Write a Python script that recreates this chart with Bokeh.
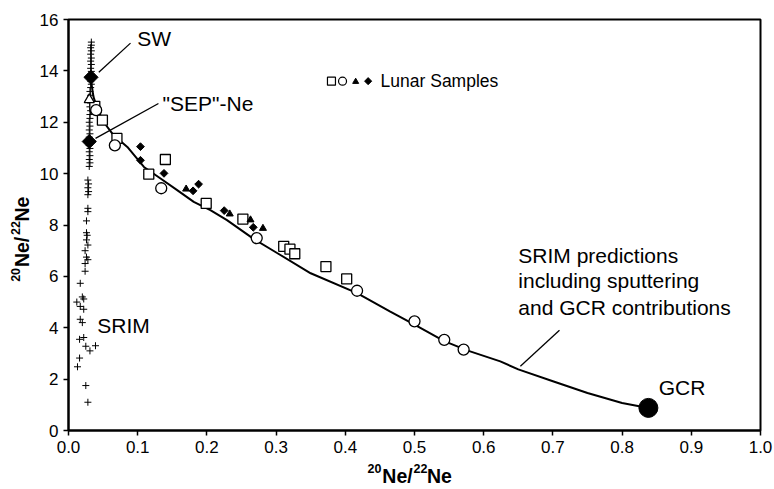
import numpy as np
from bokeh.plotting import figure
from bokeh.models import FixedTicker, NumeralTickFormatter, LinearAxis, Range1d
from bokeh.core.properties import value
from bokeh.embed import file_html
from bokeh.resources import INLINE

# ---------------- data ----------------
# SRIM simulation points (crosses)
srim_x = [0.033, 0.033, 0.032, 0.033, 0.032, 0.033, 0.032, 0.033, 0.032, 0.033,
          0.032, 0.032, 0.033, 0.032, 0.031, 0.032, 0.031, 0.032, 0.031, 0.032,
          0.031, 0.031, 0.030, 0.031, 0.030, 0.031, 0.030, 0.030, 0.031, 0.030,
          0.031, 0.030, 0.031, 0.030, 0.028, 0.029, 0.028, 0.029, 0.028,
          0.028, 0.028, 0.026, 0.026, 0.027, 0.026, 0.028, 0.024, 0.026, 0.028,
          0.024, 0.024, 0.017, 0.020, 0.022, 0.012, 0.017, 0.022, 0.017, 0.020,
          0.016, 0.022, 0.025, 0.031, 0.039, 0.016, 0.013, 0.025, 0.028]
srim_y = [15.12, 15.0, 14.9, 14.78, 14.65, 14.5, 14.38, 14.25, 14.1, 13.98,
          13.85, 13.6, 13.48, 13.35, 13.2, 13.05, 12.9, 12.75, 12.6, 12.45,
          12.3, 12.15, 12.0, 11.85, 11.7, 11.55, 11.42, 11.1, 10.98, 10.85,
          10.7, 10.55, 10.42, 10.28, 9.75, 9.6, 9.45, 9.3, 9.18,
          8.65, 8.52, 8.16, 7.7, 7.6, 7.42, 7.22, 7.0, 6.75, 6.65,
          6.5, 6.2, 5.73, 5.2, 5.12, 5.0, 4.83, 4.72, 4.33, 4.2,
          3.55, 3.62, 3.28, 3.1, 3.3, 2.82, 2.48, 1.75, 1.1]

# SRIM prediction curve including sputtering and GCR
curve_x = [0.032, 0.036, 0.042, 0.051, 0.065, 0.085, 0.109, 0.133, 0.157, 0.181,
           0.205, 0.229, 0.268, 0.302, 0.350, 0.417, 0.465, 0.500, 0.543, 0.576,
           0.624, 0.650, 0.700, 0.750, 0.800, 0.838]
curve_y = [13.72, 13.0, 12.5, 12.0, 11.5, 11.04, 10.26, 9.81, 9.36, 8.9,
           8.58, 8.19, 7.45, 6.9, 6.12, 5.35, 4.63, 4.12, 3.48, 3.12,
           2.69, 2.38, 1.92, 1.46, 1.07, 0.88]

# Lunar samples
sq_x = [0.038, 0.049, 0.070, 0.116, 0.140, 0.199, 0.252, 0.311, 0.320, 0.327, 0.372, 0.402]
sq_y = [12.62, 12.08, 11.37, 9.98, 10.55, 8.84, 8.23, 7.17, 7.06, 6.88, 6.38, 5.9]
ci_x = [0.040, 0.067, 0.134, 0.272, 0.417, 0.500, 0.543, 0.571]
ci_y = [12.47, 11.1, 9.43, 7.49, 5.44, 4.25, 3.53, 3.15]
di_x = [0.104, 0.104, 0.138, 0.180, 0.188, 0.225, 0.267]
di_y = [11.05, 10.52, 10.01, 9.33, 9.59, 8.56, 7.91]
tr_x = [0.170, 0.233, 0.263, 0.281]
tr_y = [9.40, 8.43, 8.20, 7.87]
tro_x = [0.030]
tro_y = [12.88]

# end members
sw = (0.0325, 13.75)
sep = (0.030, 11.25)
gcr = (0.838, 0.88)

x_ticks = [0.0, 0.1, 0.2, 0.3, 0.4, 0.5, 0.6, 0.7, 0.8, 0.9, 1.0]
y_ticks = [0, 2, 4, 6, 8, 10, 12, 14, 16]

# axis title pieces ("20Ne/22Ne"): superscripts and main text
title_sup = ["20", "22"]
title_main = ["Ne/", "Ne"]

FONT = "Liberation Sans"

p = figure(width=774, height=489, x_range=(0, 1.0), y_range=(0, 16),
           output_backend="svg", toolbar_location=None,
           min_border_left=68, min_border_right=14, min_border_top=19, min_border_bottom=58)

p.grid.visible = False
p.outline_line_color = "black"
p.outline_line_width = 2
p.background_fill_color = "white"
p.border_fill_color = "white"

for ax in (p.xaxis[0], p.yaxis[0]):
    ax.axis_line_width = 2
    ax.major_tick_line_width = 1.5
    ax.major_tick_in = 0
    ax.major_tick_out = 5
    ax.minor_tick_line_color = None
    ax.major_label_text_font = FONT
    ax.major_label_text_font_size = "17px"
    ax.major_label_text_color = "black"
    ax.major_label_standoff = 5

p.xaxis.ticker = FixedTicker(ticks=x_ticks)
p.xaxis.formatter = NumeralTickFormatter(format="0.0")
p.yaxis.ticker = FixedTicker(ticks=y_ticks)

# ---- axis titles with superscripts: helper axes on pixel-based ranges ----
p.extra_x_ranges = {"px": Range1d(68, 760)}
p.extra_y_ranges = {"py": Range1d(431, 19)}

def title_axis(ticks, labels, size, standoff, vertical=False, **kw):
    ax = LinearAxis(ticker=FixedTicker(ticks=ticks),
                    major_label_overrides={t: s for t, s in zip(ticks, labels)}, **kw)
    ax.axis_line_color = None
    ax.major_tick_line_color = None
    ax.minor_tick_line_color = None
    ax.major_tick_in = 0
    ax.major_tick_out = 0
    ax.major_label_text_font = FONT
    ax.major_label_text_font_style = "bold"
    ax.major_label_text_font_size = size
    ax.major_label_text_color = "black"
    ax.major_label_standoff = standoff
    if vertical:
        ax.major_label_orientation = "vertical"
    return ax

# x title: superscripts first (closer to frame), then main text
p.add_layout(title_axis([374, 420], title_sup, "12.5px", 8, x_range_name="px"), "below")
p.add_layout(title_axis([397, 439], title_main, "19.5px", -11, x_range_name="px"), "below")
# y title: main text first (closer to frame), then superscripts
p.add_layout(title_axis([252, 209], title_main, "19.5px", 3, vertical=True, y_range_name="py"), "left")
p.add_layout(title_axis([275, 228], title_sup, "12.5px", -12, vertical=True, y_range_name="py"), "left")

# SRIM crosses
p.scatter(srim_x, srim_y, marker="cross", size=7, line_color="black", line_width=1)

# curve
p.line(curve_x, curve_y, line_color="black", line_width=2)

# leader lines
p.segment(x0=[0.0438, 0.039, 0.653], y0=[13.95, 11.37, 2.5],
          x1=[0.0896, 0.130, 0.7095], y1=[15.08, 12.73, 3.9],
          line_color="black", line_width=1.3)

# lunar samples
p.scatter(sq_x, sq_y, marker="square", size=10, fill_color="white", line_color="black", line_width=1.3)
p.scatter(ci_x, ci_y, marker="circle", size=11, fill_color="white", line_color="black", line_width=1.3)
p.scatter(di_x, di_y, marker="square", angle=np.pi / 4, size=5.5, fill_color="black", line_color="black")
p.scatter(tr_x, tr_y, marker="triangle", size=7, fill_color="black", line_color="black")
p.scatter(tro_x, tro_y, marker="triangle", size=10, fill_color="white", line_color="black", line_width=1.3)

# end members
p.scatter([sw[0], sep[0]], [sw[1], sep[1]], marker="square", angle=np.pi / 4, size=10,
          fill_color="black", line_color="black")
p.scatter([gcr[0]], [gcr[1]], marker="circle", size=19, fill_color="black", line_color="black")

# legend-like symbols for lunar samples
p.scatter([0.380], [13.6], marker="square", size=8, fill_color="white", line_color="black", line_width=1.2)
p.scatter([0.396], [13.6], marker="circle", size=8, fill_color="white", line_color="black", line_width=1.2)
p.scatter([0.415], [13.58], marker="triangle", size=6, fill_color="black", line_color="black")
p.scatter([0.433], [13.6], marker="square", angle=np.pi / 4, size=5, fill_color="black", line_color="black")

# texts
def txt(x, y, s, size="21px"):
    p.text([x], [y], text=[s], text_font=value(FONT), text_font_size=size,
           text_baseline="middle", text_align="left", text_color="black")

txt(0.0995, 15.25, "SW")
txt(0.136, 12.72, "\"SEP\"-Ne")
txt(0.0415, 4.08, "SRIM")
txt(0.853, 1.69, "GCR")
txt(0.451, 13.6, "Lunar Samples", size="17.5px")
txt(0.650, 6.83, "SRIM predictions")
txt(0.650, 5.83, "including sputtering")
txt(0.650, 4.80, "and GCR contributions")

open("out.html", "w").write(file_html(p, INLINE))
